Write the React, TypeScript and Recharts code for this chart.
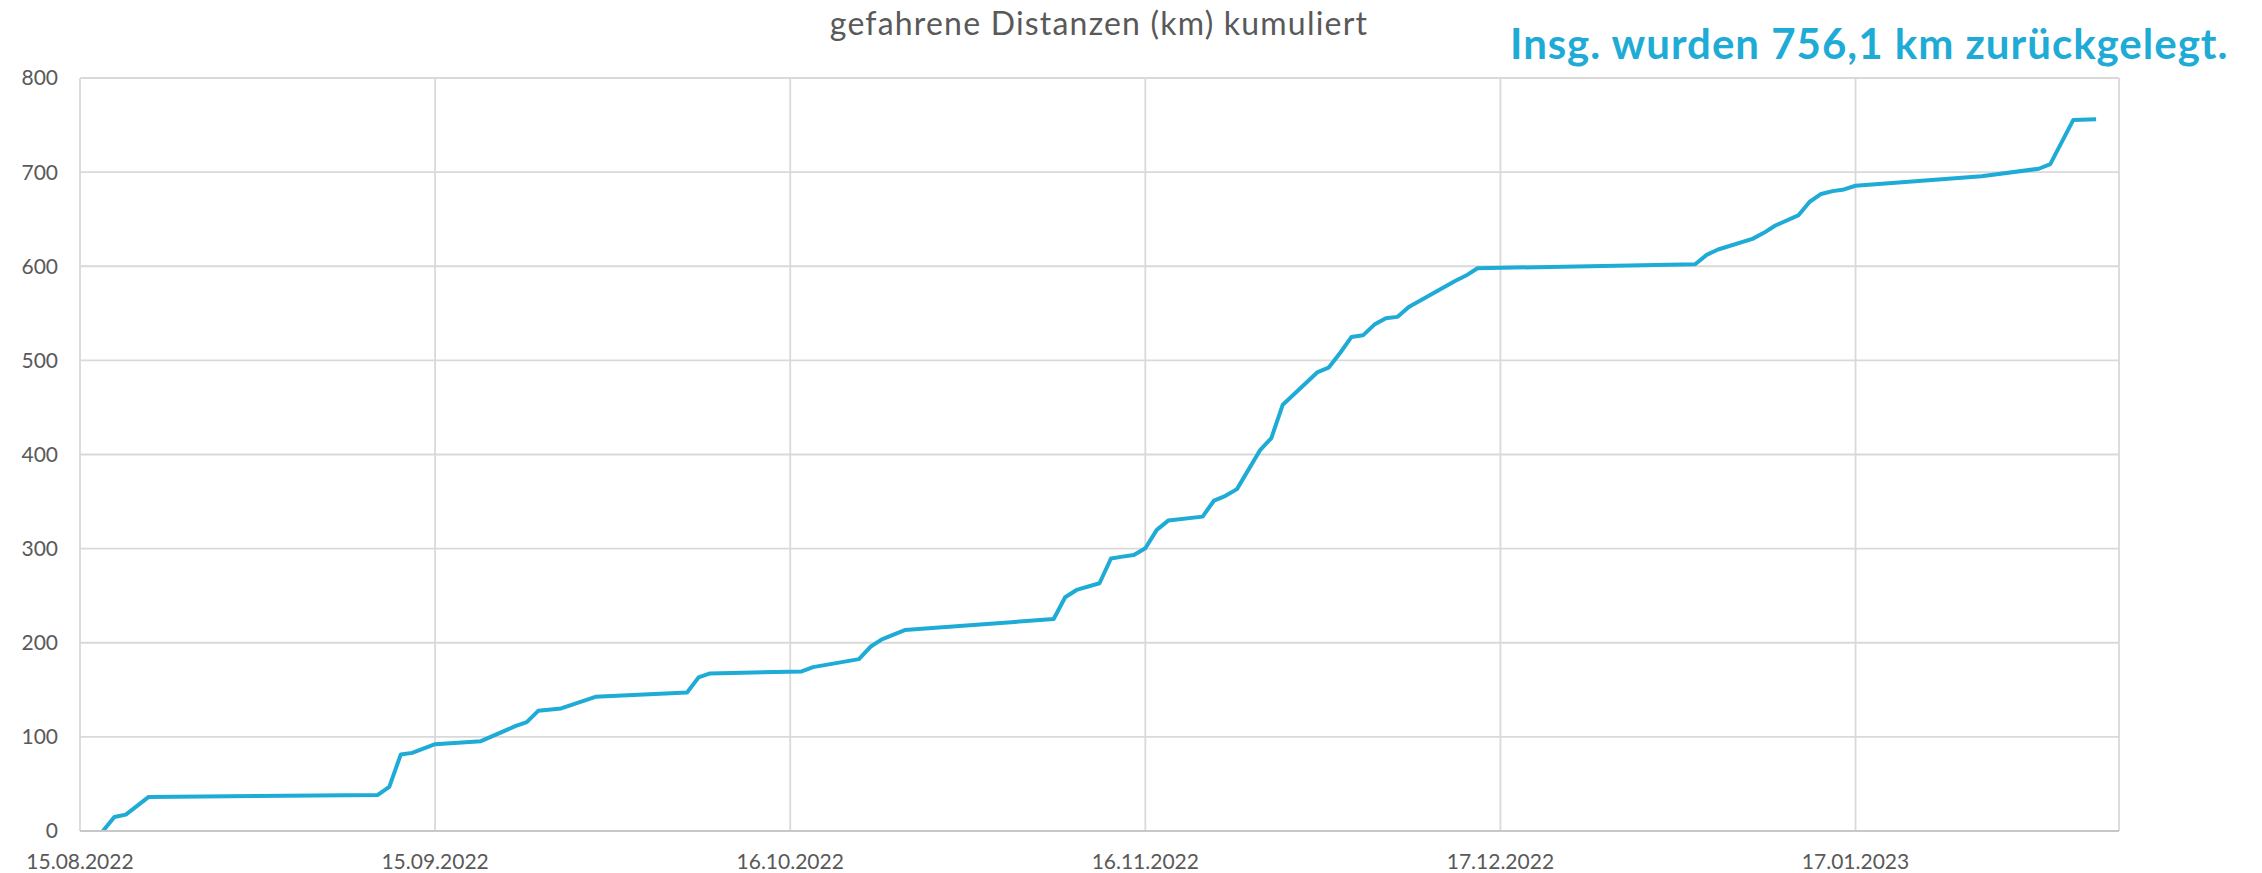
import React from 'react';
import { LineChart, Line, XAxis, YAxis, CartesianGrid } from 'recharts';

// Days since 15.08.2022
const days = [2,3,4,6,26,27,28,29,31,35,38,39,40,42,45,53,54,55,63,64,68,69,70,72,85,86,87,89,90,91,92,93,94,95,98,99,100,101,103,104,105,108,109,110,111,112,113,114,115,116,120,121,122,141,142,143,146,147,148,150,151,152,153,154,155,166,171,172,174,176];
const km = [0,14.9,17.4,36.2,38.3,46.8,81.2,83.0,92.2,95.4,111.4,115.6,127.7,130.2,142.6,147.2,163.2,167.4,169.5,174.1,182.6,195.7,203.6,213.5,225.2,248.3,256.1,263.2,289.5,291.5,293.3,300.4,319.9,329.8,334.0,351.1,356.1,363.2,404.3,417.4,452.9,487.2,492.2,507.8,524.9,526.6,538.0,544.7,546.2,556.8,584.0,590.1,597.9,602.1,612.1,617.8,629.1,635.5,643.3,654.0,668.5,676.8,679.8,681.6,685.5,695.7,703.6,708.5,755.3,756.1];

const xTickDays = [0, 31, 62, 93, 124, 155];
const xTickLabels = ['15.08.2022', '15.09.2022', '16.10.2022', '16.11.2022', '17.12.2022', '17.01.2023'];
const yTicks = [0, 100, 200, 300, 400, 500, 600, 700, 800];

const title = 'gefahrene Distanzen (km) kumuliert';
const note = 'Insg. wurden 756,1 km zurückgelegt.';

const data = days.map((d, i) => ({ day: d, km: km[i] }));

const W = 2262;
const H = 873;
const FONT = 'Lato, "Open Sans", sans-serif';

export default function App() {
  return (
    <div style={{ position: 'absolute', left: 0, top: 0, width: W, height: H, background: '#fff' }}>
      <LineChart width={W} height={H} data={data} margin={{ top: 78, right: 143, bottom: 12, left: 0 }}>
        <CartesianGrid stroke="#d9d9d9" strokeWidth={1.8} />
        <XAxis
          type="number"
          dataKey="day"
          domain={[0, 178]}
          ticks={xTickDays}
          tickFormatter={(v: number) => xTickLabels[xTickDays.indexOf(v)] ?? ''}
          height={30}
          tickSize={0}
          tickMargin={23}
          axisLine={{ stroke: '#c8c8c8', strokeWidth: 2 }}
          tick={{ fill: '#595959', fontSize: 21, fontFamily: FONT }}
          allowDataOverflow
        />
        <YAxis
          type="number"
          domain={[0, 800]}
          ticks={yTicks}
          width={80}
          tickSize={0}
          tickMargin={22}
          axisLine={false}
          tick={{ fill: '#595959', fontSize: 21, fontFamily: FONT }}
        />
        <Line
          type="linear"
          dataKey="km"
          stroke="#1eabd5"
          strokeWidth={4}
          dot={false}
          activeDot={false}
          isAnimationActive={false}
          strokeLinejoin="round"
        />
      </LineChart>
      <svg width={W} height={H} style={{ position: 'absolute', left: 0, top: 0, pointerEvents: 'none' }}>
        <text x={1099} y={35} textAnchor="middle" fill="#595959" fontSize={32} letterSpacing={1.2} fontFamily={FONT} fontWeight={400}>
          {title}
        </text>
        <text x={1510} y={59} textAnchor="start" fill="#1eabd5" fontSize={42} letterSpacing={1} fontFamily={FONT} fontWeight={700}>
          {note}
        </text>
      </svg>
    </div>
  );
}
